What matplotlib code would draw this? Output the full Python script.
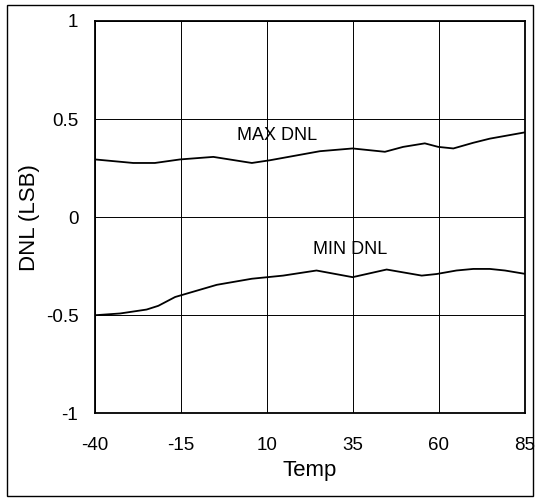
import matplotlib

matplotlib.use("Agg")
import matplotlib.pyplot as plt  # noqa: E402
from matplotlib.patches import Rectangle  # noqa: E402

plt.rcParams["font.family"] = ["Liberation Sans", "DejaVu Sans"]
plt.rcParams["axes.unicode_minus"] = False

# values
max_temp = [-40, -28.9, -22.6, -15.3, -5.6, 5.6, 10.9, 25.4, 34.9, 44.3, 49.6, 55.9, 59.8, 64.2, 70, 74.8, 85]
max_dnl = [0.294, 0.276, 0.276, 0.294, 0.307, 0.276, 0.29, 0.336, 0.35, 0.333, 0.358, 0.376, 0.358, 0.35, 0.379, 0.40, 0.432]

min_temp = [-40, -32.7, -25, -21.6, -16.7, -4.6, 5.6, 14.7, 24.4, 34.9, 44.8, 55, 59.3, 65.1, 70, 74.8, 79.2, 85]
min_dnl = [-0.5, -0.491, -0.471, -0.452, -0.407, -0.345, -0.314, -0.298, -0.272, -0.306, -0.267, -0.298,
           -0.29, -0.272, -0.264, -0.264, -0.272, -0.289]

x_ticks = [-40, -15, 10, 35, 60, 85]
y_ticks = [-1, -0.5, 0, 0.5, 1]
y_labels = ["-1", "-0.5", "0", "0.5", "1"]

fig = plt.figure(figsize=(5.4, 4.98), dpi=100)
ax = fig.add_axes([0.176, 0.170, 0.796, 0.788])

ax.plot(max_temp, max_dnl, color="black", linewidth=1.3)
ax.plot(min_temp, min_dnl, color="black", linewidth=1.3)
ax.text(12.8, 0.415, "MAX DNL", ha="center", va="center", fontsize=13)
ax.text(34.1, -0.163, "MIN DNL", ha="center", va="center", fontsize=13)

ax.set_xlim(-40, 85)
ax.set_ylim(-1, 1)
ax.set_xticks(x_ticks)
ax.set_yticks(y_ticks)
ax.set_yticklabels(y_labels)
ax.tick_params(length=0, labelsize=13.5)
ax.tick_params(axis="x", pad=17)
ax.tick_params(axis="y", pad=12)
ax.grid(color="black", linewidth=0.7)
for spine in ax.spines.values():
    spine.set_linewidth(1.3)
ax.set_xlabel("Temp", fontsize=16, labelpad=4)
ax.set_ylabel("DNL (LSB)", fontsize=16, labelpad=4)

fig.patches.append(Rectangle((0.013, 0.004), 0.974, 0.986, transform=fig.transFigure,
                             fill=False, edgecolor="black", linewidth=1.0))

fig.savefig("out.png", dpi=100)
